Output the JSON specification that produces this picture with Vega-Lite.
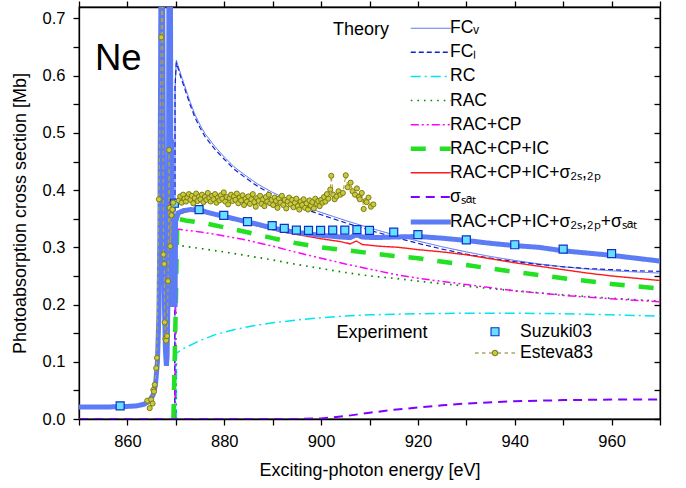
{
"$schema": "https://vega.github.io/schema/vega-lite/v6.json",
"width": 581, "height": 412,
"autosize": "none",
"padding": {"left": 79, "top": 7, "right": 26, "bottom": 69},
"config": {
  "font": "Liberation Sans",
  "view": {"stroke": "black", "strokeWidth": 1.3},
  "axis": {"domainColor": "black", "domainWidth": 1.3, "tickColor": "black", "tickWidth": 1.3, "tickSize": 6, "labelColor": "black", "labelFont": "Liberation Sans", "labelFontSize": 16.5, "labelPadding": 8, "titleFont": "Liberation Sans", "titleFontSize": 18, "titleFontWeight": "normal", "titleColor": "black", "grid": false, "labelFlush": false, "labelOverlap": false},
  "legend": {"labelFont": "Liberation Sans", "labelColor": "black", "padding": 0}
},
"datasets": {
"theory": [
{"s":"FCV","x":869.8,"y":0},{"s":"FCV","x":869.85,"y":0.58},{"s":"FCV","x":870.1,"y":0.627},{"s":"FCV","x":871,"y":0.603},{"s":"FCV","x":872,"y":0.578},{"s":"FCV","x":873,"y":0.553},{"s":"FCV","x":874,"y":0.531},{"s":"FCV","x":875,"y":0.514},{"s":"FCV","x":876,"y":0.499},{"s":"FCV","x":878,"y":0.477},{"s":"FCV","x":880,"y":0.458},{"s":"FCV","x":882,"y":0.441},{"s":"FCV","x":884,"y":0.428},{"s":"FCV","x":887,"y":0.41},{"s":"FCV","x":890,"y":0.396},{"s":"FCV","x":893,"y":0.384},{"s":"FCV","x":896,"y":0.373},{"s":"FCV","x":900,"y":0.361},{"s":"FCV","x":905,"y":0.347},{"s":"FCV","x":910,"y":0.334},{"s":"FCV","x":915,"y":0.322},{"s":"FCV","x":920,"y":0.311},{"s":"FCV","x":925,"y":0.301},{"s":"FCV","x":930,"y":0.292},{"s":"FCV","x":935,"y":0.284},{"s":"FCV","x":940,"y":0.277},{"s":"FCV","x":945,"y":0.271},{"s":"FCV","x":950,"y":0.266},{"s":"FCV","x":955,"y":0.262},{"s":"FCV","x":960,"y":0.259},{"s":"FCV","x":965,"y":0.257},{"s":"FCV","x":970,"y":0.255},
{"s":"FCL","x":869.78,"y":0},{"s":"FCL","x":869.83,"y":0.58},{"s":"FCL","x":870.1,"y":0.623},{"s":"FCL","x":871,"y":0.598},{"s":"FCL","x":872,"y":0.573},{"s":"FCL","x":873,"y":0.548},{"s":"FCL","x":874,"y":0.526},{"s":"FCL","x":875,"y":0.509},{"s":"FCL","x":876,"y":0.494},{"s":"FCL","x":878,"y":0.472},{"s":"FCL","x":880,"y":0.454},{"s":"FCL","x":882,"y":0.437},{"s":"FCL","x":884,"y":0.424},{"s":"FCL","x":887,"y":0.406},{"s":"FCL","x":890,"y":0.392},{"s":"FCL","x":893,"y":0.38},{"s":"FCL","x":896,"y":0.369},{"s":"FCL","x":900,"y":0.357},{"s":"FCL","x":905,"y":0.343},{"s":"FCL","x":910,"y":0.33},{"s":"FCL","x":915,"y":0.318},{"s":"FCL","x":920,"y":0.307},{"s":"FCL","x":925,"y":0.297},{"s":"FCL","x":930,"y":0.288},{"s":"FCL","x":935,"y":0.281},{"s":"FCL","x":940,"y":0.275},{"s":"FCL","x":945,"y":0.27},{"s":"FCL","x":950,"y":0.266},{"s":"FCL","x":955,"y":0.263},{"s":"FCL","x":960,"y":0.261},{"s":"FCL","x":965,"y":0.259},{"s":"FCL","x":970,"y":0.258},
{"s":"RC","x":870.1,"y":0},{"s":"RC","x":870.15,"y":0.115},{"s":"RC","x":871,"y":0.12},{"s":"RC","x":872,"y":0.125},{"s":"RC","x":875,"y":0.137},{"s":"RC","x":878,"y":0.147},{"s":"RC","x":882,"y":0.156},{"s":"RC","x":886,"y":0.163},{"s":"RC","x":890,"y":0.168},{"s":"RC","x":895,"y":0.173},{"s":"RC","x":900,"y":0.177},{"s":"RC","x":905,"y":0.18},{"s":"RC","x":910,"y":0.182},{"s":"RC","x":920,"y":0.184},{"s":"RC","x":930,"y":0.185},{"s":"RC","x":940,"y":0.185},{"s":"RC","x":950,"y":0.184},{"s":"RC","x":960,"y":0.182},{"s":"RC","x":970,"y":0.18},
{"s":"RAC","x":870.0,"y":0},{"s":"RAC","x":870.05,"y":0.3},{"s":"RAC","x":871,"y":0.303},{"s":"RAC","x":875,"y":0.298},{"s":"RAC","x":880,"y":0.292},{"s":"RAC","x":885,"y":0.285},{"s":"RAC","x":890,"y":0.278},{"s":"RAC","x":895,"y":0.27},{"s":"RAC","x":900,"y":0.263},{"s":"RAC","x":905,"y":0.256},{"s":"RAC","x":910,"y":0.25},{"s":"RAC","x":915,"y":0.246},{"s":"RAC","x":920,"y":0.241},{"s":"RAC","x":930,"y":0.232},{"s":"RAC","x":940,"y":0.224},{"s":"RAC","x":950,"y":0.217},{"s":"RAC","x":960,"y":0.211},{"s":"RAC","x":970,"y":0.206},
{"s":"RAC+CP","x":869.9,"y":0},{"s":"RAC+CP","x":870.0,"y":0.332},{"s":"RAC+CP","x":871,"y":0.331},{"s":"RAC+CP","x":875,"y":0.327},{"s":"RAC+CP","x":880,"y":0.32},{"s":"RAC+CP","x":885,"y":0.312},{"s":"RAC+CP","x":890,"y":0.302},{"s":"RAC+CP","x":895,"y":0.291},{"s":"RAC+CP","x":900,"y":0.281},{"s":"RAC+CP","x":905,"y":0.271},{"s":"RAC+CP","x":910,"y":0.262},{"s":"RAC+CP","x":915,"y":0.253},{"s":"RAC+CP","x":920,"y":0.246},{"s":"RAC+CP","x":930,"y":0.235},{"s":"RAC+CP","x":940,"y":0.224},{"s":"RAC+CP","x":950,"y":0.216},{"s":"RAC+CP","x":960,"y":0.21},{"s":"RAC+CP","x":970,"y":0.205},
{"s":"RAC+CP+IC","x":869.5,"y":0},{"s":"RAC+CP+IC","x":870.0,"y":0.2},{"s":"RAC+CP+IC","x":870.3,"y":0.35},{"s":"RAC+CP+IC","x":872,"y":0.347},{"s":"RAC+CP+IC","x":876,"y":0.342},{"s":"RAC+CP+IC","x":880,"y":0.335},{"s":"RAC+CP+IC","x":885,"y":0.326},{"s":"RAC+CP+IC","x":890,"y":0.316},{"s":"RAC+CP+IC","x":895,"y":0.307},{"s":"RAC+CP+IC","x":900,"y":0.3},{"s":"RAC+CP+IC","x":905,"y":0.295},{"s":"RAC+CP+IC","x":910,"y":0.29},{"s":"RAC+CP+IC","x":915,"y":0.285},{"s":"RAC+CP+IC","x":920,"y":0.281},{"s":"RAC+CP+IC","x":930,"y":0.269},{"s":"RAC+CP+IC","x":940,"y":0.257},{"s":"RAC+CP+IC","x":950,"y":0.246},{"s":"RAC+CP+IC","x":960,"y":0.236},{"s":"RAC+CP+IC","x":970,"y":0.228},
{"s":"S2","x":870.0,"y":0.345},{"s":"S2","x":870.5,"y":0.358},{"s":"S2","x":873,"y":0.364},{"s":"S2","x":877,"y":0.358},{"s":"S2","x":880,"y":0.352},{"s":"S2","x":884,"y":0.344},{"s":"S2","x":888,"y":0.335},{"s":"S2","x":892,"y":0.327},{"s":"S2","x":896,"y":0.321},{"s":"S2","x":900,"y":0.315},{"s":"S2","x":904,"y":0.31},{"s":"S2","x":906,"y":0.306},{"s":"S2","x":907.3,"y":0.311},{"s":"S2","x":908.5,"y":0.305},{"s":"S2","x":912,"y":0.302},{"s":"S2","x":916,"y":0.3},{"s":"S2","x":920,"y":0.296},{"s":"S2","x":925,"y":0.292},{"s":"S2","x":930,"y":0.287},{"s":"S2","x":935,"y":0.28},{"s":"S2","x":940,"y":0.273},{"s":"S2","x":945,"y":0.267},{"s":"S2","x":950,"y":0.261},{"s":"S2","x":955,"y":0.255},{"s":"S2","x":960,"y":0.25},{"s":"S2","x":965,"y":0.246},{"s":"S2","x":970,"y":0.242},
{"s":"SAT","x":850,"y":0},{"s":"SAT","x":895,"y":0},{"s":"SAT","x":900,"y":0.001},{"s":"SAT","x":905,"y":0.005},{"s":"SAT","x":910,"y":0.011},{"s":"SAT","x":915,"y":0.016},{"s":"SAT","x":920,"y":0.02},{"s":"SAT","x":925,"y":0.024},{"s":"SAT","x":930,"y":0.027},{"s":"SAT","x":940,"y":0.031},{"s":"SAT","x":950,"y":0.033},{"s":"SAT","x":960,"y":0.034},{"s":"SAT","x":970,"y":0.034},
{"s":"TOT","x":850,"y":0.021},{"s":"TOT","x":856,"y":0.021},{"s":"TOT","x":860,"y":0.022},{"s":"TOT","x":862,"y":0.023},{"s":"TOT","x":863.5,"y":0.026},{"s":"TOT","x":864.5,"y":0.031},{"s":"TOT","x":865.3,"y":0.042},{"s":"TOT","x":865.8,"y":0.06},{"s":"TOT","x":866.2,"y":0.1},{"s":"TOT","x":866.5,"y":0.18},{"s":"TOT","x":866.7,"y":0.32},{"s":"TOT","x":866.85,"y":0.6},{"s":"TOT","x":867.0,"y":0.95},{"s":"TOT","x":867.2,"y":0.95},{"s":"TOT","x":867.35,"y":0.6},{"s":"TOT","x":867.5,"y":0.35},{"s":"TOT","x":867.65,"y":0.2},{"s":"TOT","x":867.85,"y":0.12},{"s":"TOT","x":868.05,"y":0.093},{"s":"TOT","x":868.2,"y":0.11},{"s":"TOT","x":868.35,"y":0.2},{"s":"TOT","x":868.5,"y":0.45},{"s":"TOT","x":868.62,"y":0.95},{"s":"TOT","x":868.85,"y":0.95},{"s":"TOT","x":868.95,"y":0.49},{"s":"TOT","x":869.15,"y":0.485},{"s":"TOT","x":869.25,"y":0.2},{"s":"TOT","x":869.85,"y":0.2},{"s":"TOT","x":869.95,"y":0.345},{"s":"TOT","x":870.5,"y":0.36},{"s":"TOT","x":871.5,"y":0.364},{"s":"TOT","x":873,"y":0.366},{"s":"TOT","x":875,"y":0.365},{"s":"TOT","x":877,"y":0.36},{"s":"TOT","x":880,"y":0.354},{"s":"TOT","x":884,"y":0.346},{"s":"TOT","x":888,"y":0.338},{"s":"TOT","x":892,"y":0.33},{"s":"TOT","x":896,"y":0.325},{"s":"TOT","x":900,"y":0.321},{"s":"TOT","x":904,"y":0.318},{"s":"TOT","x":906,"y":0.317},{"s":"TOT","x":907.3,"y":0.322},{"s":"TOT","x":908.5,"y":0.318},{"s":"TOT","x":911,"y":0.317},{"s":"TOT","x":915,"y":0.318},{"s":"TOT","x":920,"y":0.319},{"s":"TOT","x":925,"y":0.316},{"s":"TOT","x":930,"y":0.312},{"s":"TOT","x":935,"y":0.307},{"s":"TOT","x":940,"y":0.303},{"s":"TOT","x":945,"y":0.3},{"s":"TOT","x":950,"y":0.294},{"s":"TOT","x":955,"y":0.29},{"s":"TOT","x":960,"y":0.286},{"s":"TOT","x":965,"y":0.281},{"s":"TOT","x":970,"y":0.276}
],
"exp": [
{"src":"Suzuki03","x":858.5,"y":0.023},{"src":"Suzuki03","x":869.7,"y":0.377},{"src":"Suzuki03","x":874.8,"y":0.366},{"src":"Suzuki03","x":879.9,"y":0.356},{"src":"Suzuki03","x":884.8,"y":0.345},{"src":"Suzuki03","x":889.9,"y":0.338},{"src":"Suzuki03","x":892.4,"y":0.333},{"src":"Suzuki03","x":894.9,"y":0.33},{"src":"Suzuki03","x":897.4,"y":0.3295},{"src":"Suzuki03","x":899.9,"y":0.3295},{"src":"Suzuki03","x":902.4,"y":0.33},{"src":"Suzuki03","x":904.9,"y":0.33},{"src":"Suzuki03","x":907.4,"y":0.331},{"src":"Suzuki03","x":910,"y":0.3295},{"src":"Suzuki03","x":915,"y":0.3266},{"src":"Suzuki03","x":920,"y":0.3222},{"src":"Suzuki03","x":930,"y":0.313},{"src":"Suzuki03","x":940,"y":0.3045},{"src":"Suzuki03","x":950,"y":0.297},{"src":"Suzuki03","x":960,"y":0.289},
{"src":"Esteva83","x":864.1,"y":0.032},{"src":"Esteva83","x":864.6,"y":0.019},{"src":"Esteva83","x":864.9,"y":0.034},{"src":"Esteva83","x":865.2,"y":0.027},{"src":"Esteva83","x":865.35,"y":0.051},{"src":"Esteva83","x":865.5,"y":0.048},{"src":"Esteva83","x":865.65,"y":0.06},{"src":"Esteva83","x":865.95,"y":0.089},{"src":"Esteva83","x":866.1,"y":0.107},{"src":"Esteva83","x":866.5,"y":0.384},{"src":"Esteva83","x":867.0,"y":0.667},{"src":"Esteva83","x":867.2,"y":0.85},{"src":"Esteva83","x":867.45,"y":0.2875},{"src":"Esteva83","x":867.6,"y":0.271},{"src":"Esteva83","x":867.7,"y":0.169},{"src":"Esteva83","x":867.85,"y":0.14},{"src":"Esteva83","x":868.0,"y":0.137},{"src":"Esteva83","x":868.2,"y":0.145},{"src":"Esteva83","x":868.4,"y":0.241},{"src":"Esteva83","x":868.6,"y":0.47},{"src":"Esteva83","x":868.7,"y":0.369},{"src":"Esteva83","x":868.85,"y":0.302},{"src":"Esteva83","x":869.1,"y":0.356},{"src":"Esteva83","x":869.3,"y":0.366},{"src":"Esteva83","x":869.45,"y":0.378},
{"src":"Esteva83","x":870.6,"y":0.382},{"src":"Esteva83","x":870.9,"y":0.389},{"src":"Esteva83","x":871.2,"y":0.378},{"src":"Esteva83","x":871.5,"y":0.392},{"src":"Esteva83","x":871.8,"y":0.385},{"src":"Esteva83","x":872.1,"y":0.38},{"src":"Esteva83","x":872.4,"y":0.387},{"src":"Esteva83","x":872.7,"y":0.393},{"src":"Esteva83","x":873.0,"y":0.383},{"src":"Esteva83","x":873.3,"y":0.39},{"src":"Esteva83","x":873.6,"y":0.377},{"src":"Esteva83","x":873.9,"y":0.386},{"src":"Esteva83","x":874.2,"y":0.394},{"src":"Esteva83","x":874.5,"y":0.381},{"src":"Esteva83","x":874.8,"y":0.389},{"src":"Esteva83","x":875.1,"y":0.384},{"src":"Esteva83","x":875.4,"y":0.392},{"src":"Esteva83","x":875.7,"y":0.379},{"src":"Esteva83","x":876.0,"y":0.388},{"src":"Esteva83","x":876.3,"y":0.383},{"src":"Esteva83","x":876.6,"y":0.395},{"src":"Esteva83","x":876.9,"y":0.386},{"src":"Esteva83","x":877.2,"y":0.38},{"src":"Esteva83","x":877.5,"y":0.39},{"src":"Esteva83","x":877.8,"y":0.384},{"src":"Esteva83","x":878.1,"y":0.393},{"src":"Esteva83","x":878.4,"y":0.378},{"src":"Esteva83","x":878.7,"y":0.387},{"src":"Esteva83","x":879.0,"y":0.382},{"src":"Esteva83","x":879.3,"y":0.391},{"src":"Esteva83","x":879.6,"y":0.385},{"src":"Esteva83","x":879.9,"y":0.396},{"src":"Esteva83","x":880.2,"y":0.38},{"src":"Esteva83","x":880.5,"y":0.388},{"src":"Esteva83","x":880.8,"y":0.375},{"src":"Esteva83","x":881.1,"y":0.386},{"src":"Esteva83","x":881.4,"y":0.392},{"src":"Esteva83","x":881.7,"y":0.381},{"src":"Esteva83","x":882.0,"y":0.389},{"src":"Esteva83","x":882.3,"y":0.383},{"src":"Esteva83","x":882.6,"y":0.394},{"src":"Esteva83","x":882.9,"y":0.377},{"src":"Esteva83","x":883.2,"y":0.387},{"src":"Esteva83","x":883.5,"y":0.382},{"src":"Esteva83","x":883.8,"y":0.391},{"src":"Esteva83","x":884.1,"y":0.374},{"src":"Esteva83","x":884.4,"y":0.385},{"src":"Esteva83","x":884.7,"y":0.38},{"src":"Esteva83","x":885.0,"y":0.389},{"src":"Esteva83","x":885.3,"y":0.376},{"src":"Esteva83","x":885.6,"y":0.384},{"src":"Esteva83","x":885.9,"y":0.393},{"src":"Esteva83","x":886.2,"y":0.379},{"src":"Esteva83","x":886.5,"y":0.371},{"src":"Esteva83","x":886.8,"y":0.386},{"src":"Esteva83","x":887.1,"y":0.381},{"src":"Esteva83","x":887.4,"y":0.39},{"src":"Esteva83","x":887.7,"y":0.376},{"src":"Esteva83","x":888.0,"y":0.384},{"src":"Esteva83","x":888.3,"y":0.372},{"src":"Esteva83","x":888.6,"y":0.388},{"src":"Esteva83","x":888.9,"y":0.38},{"src":"Esteva83","x":889.2,"y":0.392},{"src":"Esteva83","x":889.5,"y":0.377},{"src":"Esteva83","x":889.8,"y":0.383},{"src":"Esteva83","x":890.1,"y":0.374},{"src":"Esteva83","x":890.4,"y":0.387},{"src":"Esteva83","x":890.7,"y":0.381},{"src":"Esteva83","x":891.0,"y":0.369},{"src":"Esteva83","x":891.3,"y":0.385},{"src":"Esteva83","x":891.6,"y":0.378},{"src":"Esteva83","x":891.9,"y":0.39},{"src":"Esteva83","x":892.2,"y":0.374},{"src":"Esteva83","x":892.5,"y":0.383},{"src":"Esteva83","x":892.8,"y":0.368},{"src":"Esteva83","x":893.1,"y":0.38},{"src":"Esteva83","x":893.4,"y":0.387},{"src":"Esteva83","x":893.7,"y":0.375},{"src":"Esteva83","x":894.0,"y":0.383},{"src":"Esteva83","x":894.3,"y":0.37},{"src":"Esteva83","x":894.6,"y":0.378},{"src":"Esteva83","x":894.9,"y":0.385},{"src":"Esteva83","x":895.2,"y":0.372},{"src":"Esteva83","x":895.5,"y":0.366},{"src":"Esteva83","x":895.8,"y":0.38},{"src":"Esteva83","x":896.1,"y":0.374},{"src":"Esteva83","x":896.4,"y":0.384},{"src":"Esteva83","x":896.7,"y":0.369},{"src":"Esteva83","x":897.0,"y":0.377},{"src":"Esteva83","x":897.3,"y":0.366},{"src":"Esteva83","x":897.6,"y":0.382},{"src":"Esteva83","x":897.9,"y":0.373},{"src":"Esteva83","x":898.2,"y":0.379},{"src":"Esteva83","x":898.5,"y":0.368},{"src":"Esteva83","x":898.8,"y":0.385},{"src":"Esteva83","x":899.1,"y":0.376},{"src":"Esteva83","x":899.4,"y":0.381},{"src":"Esteva83","x":899.7,"y":0.372},{"src":"Esteva83","x":900.0,"y":0.383},{"src":"Esteva83","x":900.3,"y":0.378},{"src":"Esteva83","x":900.6,"y":0.388},{"src":"Esteva83","x":900.9,"y":0.38},{"src":"Esteva83","x":901.2,"y":0.393},{"src":"Esteva83","x":901.5,"y":0.385},{"src":"Esteva83","x":901.9,"y":0.401},{"src":"Esteva83","x":902.1,"y":0.425},{"src":"Esteva83","x":902.5,"y":0.392},{"src":"Esteva83","x":902.8,"y":0.384},{"src":"Esteva83","x":903.2,"y":0.389},{"src":"Esteva83","x":903.6,"y":0.398},{"src":"Esteva83","x":904.0,"y":0.392},{"src":"Esteva83","x":904.5,"y":0.395},{"src":"Esteva83","x":905.1,"y":0.426},{"src":"Esteva83","x":905.5,"y":0.405},{"src":"Esteva83","x":906.1,"y":0.413},{"src":"Esteva83","x":906.5,"y":0.398},{"src":"Esteva83","x":907.0,"y":0.392},{"src":"Esteva83","x":907.4,"y":0.403},{"src":"Esteva83","x":907.8,"y":0.388},{"src":"Esteva83","x":908.0,"y":0.384},{"src":"Esteva83","x":908.4,"y":0.395},{"src":"Esteva83","x":908.8,"y":0.367},{"src":"Esteva83","x":909.2,"y":0.381},{"src":"Esteva83","x":909.4,"y":0.379},{"src":"Esteva83","x":909.8,"y":0.387},{"src":"Esteva83","x":910.3,"y":0.371},{"src":"Esteva83","x":910.8,"y":0.375}
]
},
"layer": [
  {
    "data": {"name": "theory"},
    "encoding": {
      "x": {"field": "x", "type": "quantitative", "scale": {"domain": [850, 970], "nice": false, "zero": false}, "axis": null},
      "y": {"field": "y", "type": "quantitative", "scale": {"domain": [0, 0.72], "nice": false, "zero": false}, "axis": null},
      "color": {"field": "s", "type": "nominal",
        "scale": {"domain": ["FCV","FCL","RC","RAC","RAC+CP","RAC+CP+IC","S2","SAT","TOT"], "range": ["#4d68f0","#1020d0","#00e5ee","#008a00","#ff00ff","#22e022","#ff1a1a","#8000ff","#5b7cf5"]},
        "legend": {"title": null, "orient": "none", "legendX": 343, "legendY": 12.5, "symbolType": "M-4,0H4", "symbolSize": 100, "symbolStrokeWidth": 1.5, "labelFontSize": 17.5, "labelOffset": 10.5, "rowPadding": 5.1, "labelLimit": 300,
          "labelExpr": "datum.label=='FCV'?'FCᵥ':datum.label=='FCL'?'FCₗ':datum.label=='S2'?'RAC+CP+IC+σ₂ₛ,₂ₚ':datum.label=='SAT'?'σₛₐₜ':datum.label=='TOT'?'RAC+CP+IC+σ₂ₛ,₂ₚ+σₛₐₜ':datum.label",
          "encode": {"symbols": {"update": {"strokeWidth": {"signal": "datum.value=='RAC+CP+IC'?4.5:datum.value=='TOT'?5:datum.value=='FCV'?1:datum.value=='SAT'?2:1.5"}}}}}},
      "strokeDash": {"field": "s", "type": "nominal",
        "scale": {"domain": ["FCV","FCL","RC","RAC","RAC+CP","RAC+CP+IC","S2","SAT","TOT"], "range": [[1,0],[5,3],[10,4,2,4],[1.6,5],[8,3,2,3,2,3],[15,14],[1,0],[9,6],[1,0]]},
        "legend": {"title": null, "orient": "none", "legendX": 343, "legendY": 12.5, "symbolType": "M-4,0H4", "symbolSize": 100, "symbolStrokeWidth": 1.5, "labelFontSize": 17.5, "labelOffset": 10.5, "rowPadding": 5.1, "labelLimit": 300,
          "labelExpr": "datum.label=='FCV'?'FCᵥ':datum.label=='FCL'?'FCₗ':datum.label=='S2'?'RAC+CP+IC+σ₂ₛ,₂ₚ':datum.label=='SAT'?'σₛₐₜ':datum.label=='TOT'?'RAC+CP+IC+σ₂ₛ,₂ₚ+σₛₐₜ':datum.label",
          "encode": {"symbols": {"update": {"strokeWidth": {"signal": "datum.value=='RAC+CP+IC'?4.5:datum.value=='TOT'?5:datum.value=='FCV'?1:datum.value=='SAT'?2:1.5"}}}}}}
    },
    "layer": [
      {"transform": [{"filter": "datum.s=='FCV'"}], "mark": {"type": "line", "strokeWidth": 1, "clip": true}},
      {"transform": [{"filter": "datum.s=='FCL'"}], "mark": {"type": "line", "strokeWidth": 1.2, "clip": true}},
      {"transform": [{"filter": "datum.s=='RC'"}], "mark": {"type": "line", "strokeWidth": 1.5, "clip": true}},
      {"transform": [{"filter": "datum.s=='RAC'"}], "mark": {"type": "line", "strokeWidth": 1.7, "clip": true}},
      {"transform": [{"filter": "datum.s=='RAC+CP'"}], "mark": {"type": "line", "strokeWidth": 1.5, "clip": true}},
      {"transform": [{"filter": "datum.s=='RAC+CP+IC'"}], "mark": {"type": "line", "strokeWidth": 4.5, "clip": true}},
      {"transform": [{"filter": "datum.s=='S2'"}], "mark": {"type": "line", "strokeWidth": 1.4, "clip": true}},
      {"transform": [{"filter": "datum.s=='SAT'"}], "mark": {"type": "line", "strokeWidth": 2, "clip": true}},
      {"transform": [{"filter": "datum.s=='TOT'"}], "mark": {"type": "line", "strokeWidth": 5, "clip": true}}
    ]
  },
  {
    "data": {"name": "exp"},
    "transform": [{"filter": "datum.src=='Esteva83'"}],
    "mark": {"type": "line", "color": "#b8a236", "strokeWidth": 1.1, "strokeDash": [4, 3], "clip": true},
    "encoding": {
      "x": {"field": "x", "type": "quantitative", "scale": {"domain": [850, 970], "nice": false, "zero": false},
        "axis": {"orient": "bottom", "values": [850,860,870,880,890,900,910,920,930,940,950,960,970], "format": "d", "labelExpr": "datum.value % 20 == 0 ? datum.label : ''", "title": "Exciting-photon energy [eV]", "titlePadding": 12}},
      "y": {"field": "y", "type": "quantitative", "scale": {"domain": [0, 0.72], "nice": false, "zero": false},
        "axis": {"orient": "left", "values": [0,0.05,0.1,0.15,0.2,0.25,0.3,0.35,0.4,0.45,0.5,0.55,0.6,0.65,0.7], "labelExpr": "round(datum.value*100) % 10 == 0 ? format(datum.value, '.1f') : ''", "title": "Photoabsorption cross section [Mb]", "titlePadding": 13}}
    }
  },
  {
    "data": {"name": "exp"},
    "transform": [{"filter": "datum.src=='Suzuki03'"}],
    "mark": {"type": "point", "shape": "square", "filled": true, "size": 64, "stroke": "#1030c8", "strokeWidth": 1.2, "opacity": 1, "clip": true},
    "encoding": {
      "x": {"field": "x", "type": "quantitative", "scale": {"domain": [850, 970], "nice": false, "zero": false},
        "axis": {"orient": "top", "values": [850,860,870,880,890,900,910,920,930,940,950,960,970], "labels": false, "title": null}},
      "y": {"field": "y", "type": "quantitative", "scale": {"domain": [0, 0.72], "nice": false, "zero": false},
        "axis": {"orient": "right", "values": [0,0.05,0.1,0.15,0.2,0.25,0.3,0.35,0.4,0.45,0.5,0.55,0.6,0.65,0.7], "labels": false, "title": null, "tickSize": -6}},
      "fill": {"field": "src", "type": "nominal", "scale": {"domain": ["Suzuki03"], "range": ["#66e0ff"]},
        "legend": {"title": null, "orient": "none", "legendX": 407.25, "legendY": 315.95, "symbolType": "square", "symbolSize": 64, "symbolStrokeColor": "#1030c8", "symbolStrokeWidth": 1.1, "labelFontSize": 17.5, "labelOffset": 16.25}}
    }
  },
  {
    "data": {"name": "exp"},
    "transform": [{"filter": "datum.src=='Esteva83'"}],
    "mark": {"type": "point", "shape": "circle", "filled": true, "size": 26, "fill": "#c8cc3c", "strokeWidth": 1, "opacity": 1, "clip": true},
    "encoding": {
      "x": {"field": "x", "type": "quantitative", "scale": {"domain": [850, 970], "nice": false, "zero": false}, "axis": null},
      "y": {"field": "y", "type": "quantitative", "scale": {"domain": [0, 0.72], "nice": false, "zero": false}, "axis": null},
      "stroke": {"field": "src", "type": "nominal", "scale": {"domain": ["Esteva83"], "range": ["#7d7a18"]},
        "legend": {"title": null, "orient": "none", "legendX": 407.25, "legendY": 337.25, "symbolType": "M-5,0H-4.1M-3.25,0H-2.4M-1.5,0H-0.75M0.75,0H1.5M2.4,0H3.25M4.1,0H5M0.68,0A0.68,0.68 0 1 1 -0.68,0A0.68,0.68 0 1 1 0.68,0Z", "symbolSize": 64, "symbolFillColor": "#c8cc3c", "symbolStrokeWidth": 1.1, "labelFontSize": 17.5, "labelOffset": 16.25}}
    }
  },
  {
    "data": {"values": [{}]},
    "mark": {"type": "text", "text": "Ne", "align": "left", "baseline": "alphabetic", "fontSize": 36.5, "font": "Liberation Sans", "color": "black"},
    "encoding": {"x": {"datum": 853.3, "type": "quantitative", "axis": null}, "y": {"datum": 0.61, "type": "quantitative", "axis": null}}
  },
  {
    "data": {"values": [{}]},
    "mark": {"type": "text", "text": "Theory", "align": "left", "baseline": "alphabetic", "fontSize": 18, "font": "Liberation Sans", "color": "black"},
    "encoding": {"x": {"datum": 902.46, "type": "quantitative", "axis": null}, "y": {"datum": 0.6711, "type": "quantitative", "axis": null}}
  },
  {
    "data": {"values": [{}]},
    "mark": {"type": "text", "text": "Experiment", "align": "left", "baseline": "alphabetic", "fontSize": 18, "font": "Liberation Sans", "color": "black"},
    "encoding": {"x": {"datum": 903.2, "type": "quantitative", "axis": null}, "y": {"datum": 0.1416, "type": "quantitative", "axis": null}}
  }
],
"resolve": {"axis": {"x": "independent", "y": "independent"}}
}
